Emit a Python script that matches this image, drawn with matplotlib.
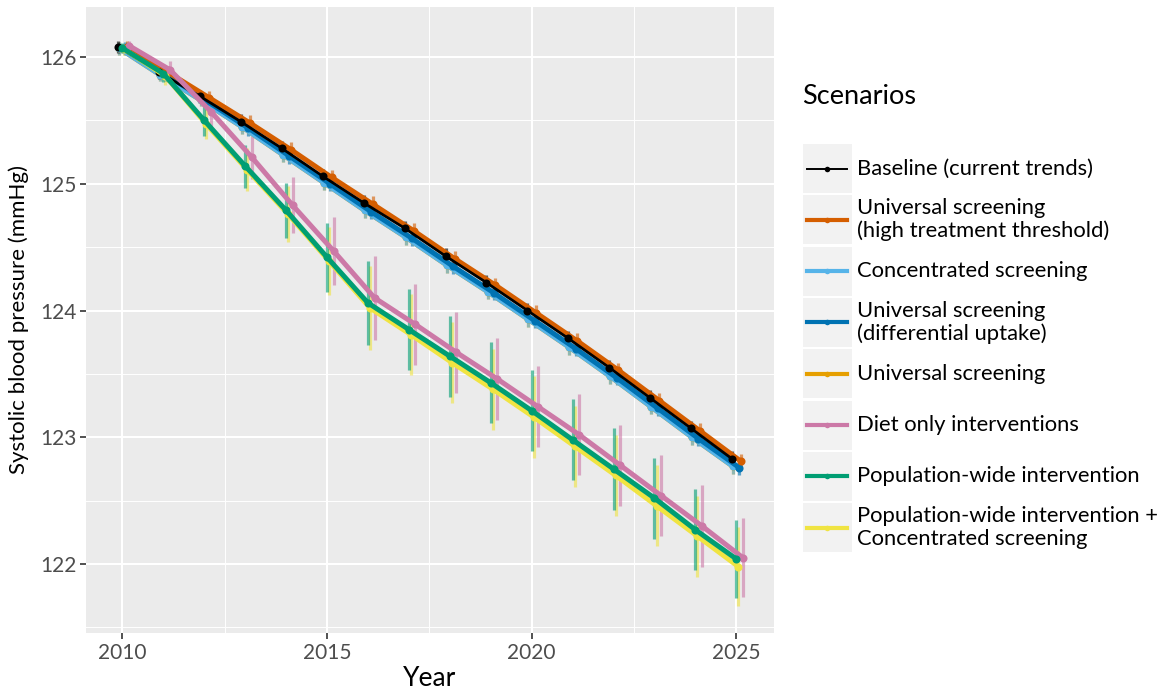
import matplotlib.pyplot as plt
import numpy as np
from matplotlib.lines import Line2D
from matplotlib.patches import Rectangle

plt.rcParams['font.family'] = ['Lato', 'DejaVu Sans']

years = np.arange(2010, 2026)

scenarios = [
    'Baseline (current trends)',
    'Universal screening\n(high treatment threshold)',
    'Concentrated screening',
    'Universal screening\n(differential uptake)',
    'Universal screening',
    'Diet only interventions',
    'Population-wide intervention',
    'Population-wide intervention +\nConcentrated screening',
]

baseline = [126.08, 125.88, 125.69, 125.49, 125.28, 125.06, 124.85, 124.65,
            124.43, 124.22, 124.00, 123.78, 123.55, 123.31, 123.07, 122.83]
univ_high = [126.08, 125.88, 125.68, 125.48, 125.27, 125.05, 124.84, 124.63,
             124.41, 124.20, 123.98, 123.76, 123.53, 123.29, 123.05, 122.81]
concentrated = [126.07, 125.86, 125.66, 125.45, 125.23, 125.01, 124.79, 124.58,
                124.36, 124.15, 123.93, 123.71, 123.48, 123.24, 123.00, 122.77]
univ_diff = [126.07, 125.86, 125.65, 125.44, 125.22, 125.00, 124.78, 124.57,
             124.35, 124.14, 123.92, 123.70, 123.47, 123.23, 122.99, 122.76]
universal = [126.07, 125.86, 125.66, 125.45, 125.23, 125.01, 124.79, 124.58,
             124.36, 124.15, 123.93, 123.71, 123.48, 123.24, 123.00, 122.77]
diet = [126.09, 125.90, 125.57, 125.21, 124.83, 124.47, 124.10, 123.89,
        123.67, 123.46, 123.24, 123.02, 122.78, 122.54, 122.30, 122.05]
pop_wide = [126.07, 125.87, 125.50, 125.14, 124.79, 124.42, 124.06, 123.85,
            123.64, 123.43, 123.21, 122.98, 122.75, 122.52, 122.27, 122.04]
pop_conc = [126.06, 125.85, 125.47, 125.11, 124.76, 124.39, 124.02, 123.81,
            123.59, 123.38, 123.16, 122.93, 122.70, 122.46, 122.22, 121.98]

# half-widths of the uncertainty intervals
err_trend = [0.05, 0.05, 0.05, 0.06, 0.06, 0.06, 0.06, 0.06,
             0.06, 0.06, 0.06, 0.06, 0.06, 0.06, 0.06, 0.06]
err_pop = [0.04, 0.07, 0.12, 0.17, 0.22, 0.27, 0.33, 0.32,
           0.32, 0.32, 0.32, 0.32, 0.32, 0.32, 0.32, 0.31]

series = [baseline, univ_high, concentrated, univ_diff, universal,
          diet, pop_wide, pop_conc]
errors = [err_trend] * 5 + [err_pop] * 3

colors = ['#000000', '#D55E00', '#56B4E9', '#0072B2', '#E69F00',
          '#CC79A7', '#009E73', '#F0E442']
dodge = [-0.105, 0.115, -0.08, 0.075, -0.08, 0.16, 0.0, 0.05]
widths = [2.0, 3.6, 3.6, 3.6, 3.6, 3.6, 3.6, 3.6]
draw_order = [4, 2, 3, 1, 0, 7, 5, 6]

W, H = 1168, 695
fig = plt.figure(figsize=(W / 100, H / 100), dpi=100)
ax = fig.add_axes([86 / W, 1 - 633 / H, (774 - 86) / W, (633 - 7) / H])

ax.set_facecolor('#EBEBEB')
for s in ax.spines.values():
    s.set_visible(False)
ax.set_xlim(2009.11, 2025.92)
ax.set_ylim(121.456, 126.395)
ax.set_xticks([2010, 2015, 2020, 2025])
ax.set_yticks([122, 123, 124, 125, 126])
ax.set_xticks([2012.5, 2017.5, 2022.5], minor=True)
ax.set_yticks([121.5, 122.5, 123.5, 124.5, 125.5], minor=True)
ax.grid(which='major', color='white', linewidth=1.5)
ax.grid(which='minor', color='white', linewidth=0.7)
ax.set_axisbelow(True)
ax.tick_params(which='major', length=4, width=1.2, color='#333333',
               labelsize=15, labelcolor='#4D4D4D', pad=3)
ax.tick_params(which='minor', length=0)
ax.set_xlabel('Year', fontsize=19, labelpad=2)
ax.set_ylabel('Systolic blood pressure (mmHg)', fontsize=16, labelpad=8)

for k, i in enumerate(draw_order):
    x = years + dodge[i]
    y = np.array(series[i])
    e = np.array(errors[i])
    ax.vlines(x, y - e, y + e, color=colors[i], alpha=0.6, linewidth=2.3,
              zorder=2 + k * 0.01)
for k, i in enumerate(draw_order):
    x = years + dodge[i]
    ax.plot(x, series[i], color=colors[i], linewidth=widths[i],
            solid_capstyle='butt', zorder=3 + k * 0.1)
    ax.plot(x, series[i], 'o', color=colors[i], markersize=5.8,
            markeredgewidth=0, zorder=3.05 + k * 0.1)

# legend drawn in pixel positions
fig.text(802 / W, 1 - 97 / H, 'Scenarios', fontsize=19.5, va='center',
         ha='left')
for i, name in enumerate(scenarios):
    top = 144 + i * 51.3
    fig.patches.append(Rectangle((803 / W, 1 - (top + 49) / H), 49 / W,
                                 49 / H, transform=fig.transFigure,
                                 facecolor='#F2F2F2', edgecolor='none'))
    yc = 1 - (top + 24.5) / H
    fig.lines.append(Line2D([807 / W, 847 / W], [yc, yc],
                            transform=fig.transFigure, color=colors[i],
                            linewidth=widths[i] - 0.6))
    fig.lines.append(Line2D([827 / W], [yc], transform=fig.transFigure,
                            marker='o', markersize=4, markeredgewidth=0,
                            color=colors[i]))
    fig.text(857 / W, yc, name, fontsize=15.8, va='center', ha='left',
             linespacing=1.15)

fig.savefig('out.png', dpi=100)
